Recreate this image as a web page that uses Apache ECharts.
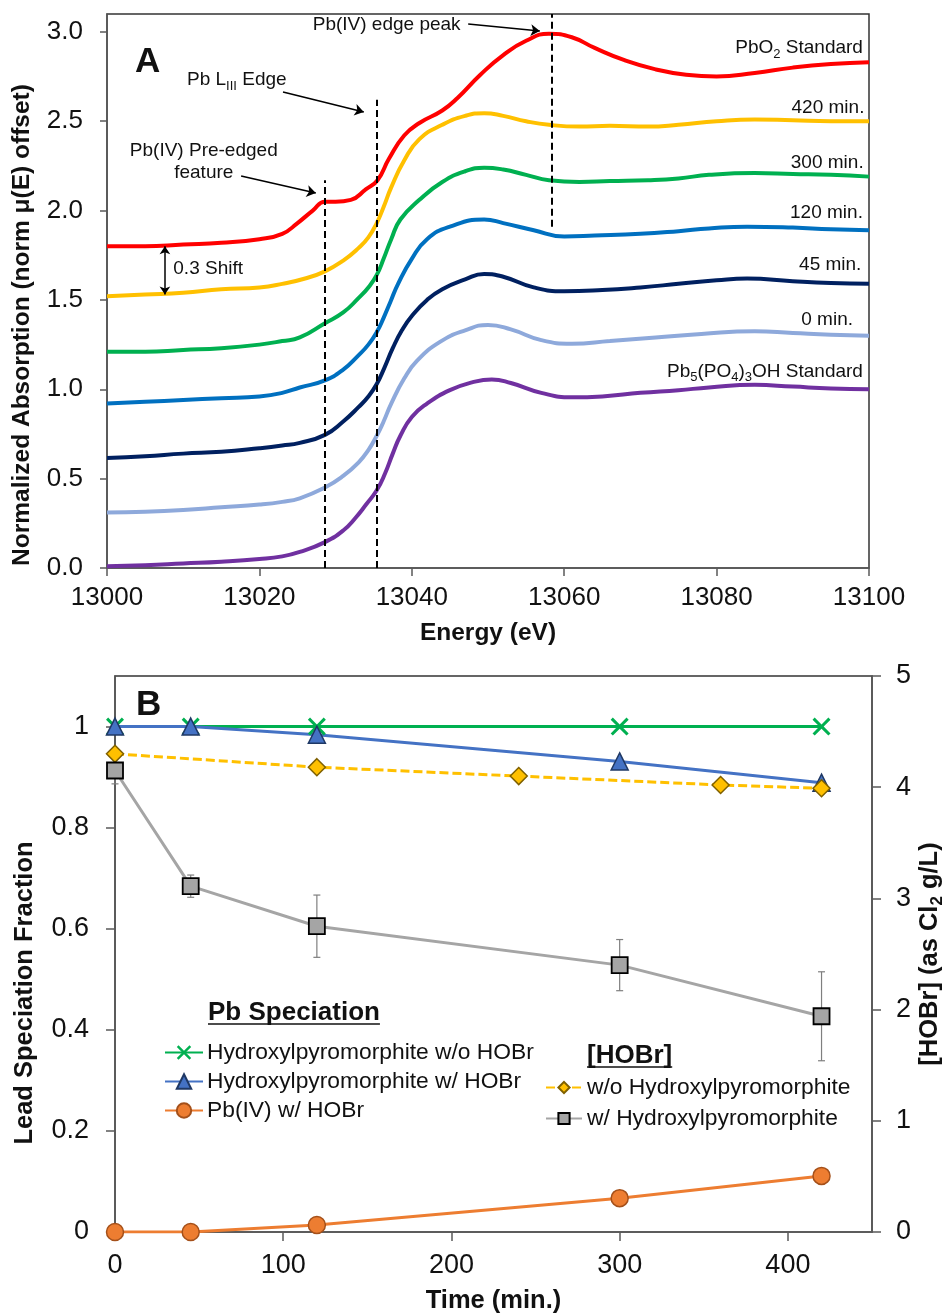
<!DOCTYPE html>
<html>
<head>
<meta charset="utf-8">
<script src="https://cdn.jsdelivr.net/npm/echarts@6/dist/echarts.min.js"></script>
<style>
  html, body { margin: 0; padding: 0; background: #ffffff; }
  #chart { width: 950px; height: 1313px; }
</style>
</head>
<body>
<div id="chart"></div>
<script>
// ---------- Panel A: Pb L-III XANES spectra, stacked with a 0.3 offset ----------
const energyTicks = [13000, 13020, 13040, 13060, 13080, 13100];
const absorptionTicks = [0, 0.5, 1.0, 1.5, 2.0, 2.5, 3.0];

// [energy (eV), normalized absorption incl. offset]
const pbo2Standard = [
  [13000, 1.80], [13005, 1.80], [13010, 1.81], [13015, 1.82], [13020, 1.84], [13023, 1.87],
  [13025, 1.93], [13027, 2.00], [13028.6, 2.05], [13030, 2.05], [13032, 2.06], [13034, 2.12],
  [13035.5, 2.17], [13037, 2.29], [13039, 2.42], [13041, 2.49], [13044, 2.56], [13046, 2.63],
  [13049, 2.76], [13052, 2.87], [13055, 2.95], [13058, 2.99], [13061, 2.97], [13064, 2.91],
  [13068, 2.84], [13072, 2.79], [13076, 2.76], [13080, 2.75], [13085, 2.77], [13090, 2.80],
  [13095, 2.82], [13100, 2.83]
];
const min420 = [
  [13000, 1.52], [13005, 1.53], [13010, 1.54], [13015, 1.56], [13020, 1.57], [13023, 1.59],
  [13026, 1.62], [13028.6, 1.66], [13031, 1.72], [13033, 1.79], [13034.3, 1.85], [13035.4, 1.93],
  [13036.3, 2.02], [13037.3, 2.13], [13039, 2.28], [13041, 2.40], [13044, 2.48], [13047, 2.53],
  [13049.5, 2.545], [13052, 2.53], [13055, 2.50], [13058, 2.48], [13062, 2.47], [13066, 2.475],
  [13071, 2.47], [13075, 2.48], [13080, 2.50], [13085, 2.51], [13090, 2.505], [13095, 2.50],
  [13100, 2.50]
];
const min300 = [
  [13000, 1.21], [13005, 1.21], [13010, 1.22], [13015, 1.23], [13020, 1.25], [13023, 1.27],
  [13025.3, 1.29], [13028.6, 1.37], [13031, 1.43], [13033, 1.51], [13034.3, 1.57], [13035.4, 1.64],
  [13036.3, 1.73], [13037.3, 1.84], [13038.5, 1.95], [13041, 2.06], [13044, 2.16], [13047, 2.22],
  [13049.5, 2.24], [13052, 2.23], [13055, 2.20], [13058, 2.17], [13062, 2.16], [13066, 2.165],
  [13071, 2.17], [13075, 2.18], [13079, 2.20], [13085, 2.21], [13090, 2.205], [13095, 2.20],
  [13100, 2.19]
];
const min120 = [
  [13000, 0.92], [13005, 0.93], [13010, 0.94], [13015, 0.95], [13020, 0.96], [13023, 0.98],
  [13025.3, 1.01], [13028.6, 1.05], [13031, 1.11], [13033, 1.19], [13034.3, 1.25], [13035.4, 1.32],
  [13036.3, 1.40], [13037.2, 1.49], [13038.2, 1.59], [13040, 1.73], [13042, 1.84], [13045, 1.91],
  [13049.5, 1.95], [13052, 1.93], [13056, 1.89], [13060, 1.855], [13064, 1.86], [13070, 1.87],
  [13075, 1.885], [13079, 1.90], [13084, 1.91], [13090, 1.905], [13095, 1.895], [13100, 1.89]
];
const min45 = [
  [13000, 0.615], [13005, 0.625], [13010, 0.64], [13015, 0.65], [13020, 0.67], [13023, 0.685],
  [13025.3, 0.70], [13028.6, 0.745], [13031, 0.82], [13033, 0.90], [13034.3, 0.96], [13035.4, 1.03],
  [13036.4, 1.12], [13037.5, 1.23], [13038.7, 1.33], [13040, 1.41], [13042, 1.50], [13044, 1.56],
  [13047, 1.615], [13049.5, 1.645], [13052, 1.63], [13056, 1.57], [13060, 1.548], [13065, 1.555],
  [13070, 1.57], [13075, 1.59], [13080, 1.61], [13084, 1.62], [13090, 1.605], [13095, 1.595],
  [13100, 1.59]
];
const min0 = [
  [13000, 0.31], [13005, 0.315], [13010, 0.325], [13015, 0.34], [13020, 0.355], [13023, 0.37],
  [13025.3, 0.39], [13028.6, 0.45], [13031, 0.515], [13033, 0.59], [13034.3, 0.66], [13035.4, 0.74],
  [13036.3, 0.82], [13037.3, 0.92], [13039, 1.06], [13040.7, 1.16], [13043.7, 1.265], [13047, 1.33],
  [13050, 1.36], [13053, 1.335], [13057, 1.275], [13061, 1.255], [13066, 1.27], [13072, 1.29],
  [13078, 1.31], [13085, 1.325], [13090, 1.315], [13095, 1.305], [13100, 1.30]
];
const hydroxylpyromorphiteStandard = [
  [13000, 0.01], [13005, 0.015], [13010, 0.025], [13015, 0.035], [13020, 0.05], [13023, 0.065],
  [13025.3, 0.09], [13028.6, 0.145], [13031, 0.21], [13032.6, 0.28], [13034, 0.355], [13035.4, 0.435],
  [13036.5, 0.53], [13037.5, 0.64], [13038.5, 0.74], [13040, 0.845], [13042, 0.92], [13045, 0.995],
  [13048, 1.04], [13050.5, 1.055], [13053, 1.035], [13057, 0.98], [13061, 0.955], [13065, 0.96],
  [13070, 0.98], [13075, 0.995], [13079, 1.01], [13085, 1.025], [13090, 1.015], [13095, 1.005],
  [13100, 1.00]
];

// ---------- Panel B: speciation fractions (left axis) and [HOBr] (right axis) ----------
const timeTicks = [0, 100, 200, 300, 400];
const fractionTicks = [0, 0.2, 0.4, 0.6, 0.8, 1];
const hobrTicks = [0, 1, 2, 3, 4, 5];

const speciationTimes = [0, 45, 120, 300, 420];
const hpmWithoutHobr = [1, 1, 1, 1, 1];
const hpmWithHobr = [1, 1, 0.984, 0.931, 0.889];
const pbIVWithHobr = [0, 0, 0.014, 0.067, 0.111];

const hobrTimesNoHpm = [0, 120, 240, 360, 420];
const hobrNoHpm = [4.30, 4.18, 4.10, 4.02, 3.99];
const hobrTimesWithHpm = [0, 45, 120, 300, 420];
const hobrWithHpm = [4.15, 3.11, 2.75, 2.40, 1.94];
const hobrWithHpmErr = [0.12, 0.10, 0.28, 0.23, 0.40];

// ---------- styling ----------
const FONT = '"Liberation Sans", Arial, Helvetica, sans-serif';
const INK = '#111111';
const AXIS = '#595959';

const pairs = (xs, ys) => xs.map((x, i) => [x, ys[i]]);

const spectra = [
  { name: 'PbO2 Standard', data: pbo2Standard, color: '#FF0000' },
  { name: '420 min.', data: min420, color: '#FFC000' },
  { name: '300 min.', data: min300, color: '#00B050' },
  { name: '120 min.', data: min120, color: '#0070C0' },
  { name: '45 min.', data: min45, color: '#002060' },
  { name: '0 min.', data: min0, color: '#8EA9DB' },
  { name: 'Pb5(PO4)3OH Standard', data: hydroxylpyromorphiteStandard, color: '#7030A0' }
];

// annotation geometry, in data units of panel A
const guideLines = [
  { e: 13028.6, from: 0, to: 2.17 },
  { e: 13035.4, from: 0, to: 2.62 },
  { e: 13058.4, from: 1.91, to: 3.1 }
];
const calloutArrows = [
  { from: [13047.4, 3.044], to: [13056.8, 3.005] },
  { from: [13023.1, 2.664], to: [13033.7, 2.552] },
  { from: [13017.6, 2.194], to: [13027.4, 2.098] }
];
const shiftArrow = { e: 13007.6, from: 1.80, to: 1.53 };

const X_SHAPE = 'path://M0,1.2L1.2,0L5,3.8L8.8,0L10,1.2L6.2,5L10,8.8L8.8,10L5,6.2L1.2,10L0,8.8L3.8,5Z';

const chart = echarts.init(document.getElementById('chart'), null, { renderer: 'canvas' });

const axisNameA = { fontFamily: FONT, fontSize: 24.5, fontWeight: 'bold', color: INK };
const axisNameB = { fontFamily: FONT, fontSize: 25.5, fontWeight: 'bold', color: INK };
const tickLabelA = { fontFamily: FONT, fontSize: 26, color: INK };
const tickLabelB = { fontFamily: FONT, fontSize: 27, color: INK };

const option = {
  animation: false,
  backgroundColor: '#ffffff',
  grid: [
    { left: 107, right: 81, top: 14, bottom: 745, outerBoundsMode: 'none', containLabel: false,
      show: true, borderColor: '#333333', borderWidth: 1.5, backgroundColor: 'transparent' },
    { left: 115, right: 78, top: 676, bottom: 81, outerBoundsMode: 'none', containLabel: false,
      show: true, borderColor: '#333333', borderWidth: 1.5, backgroundColor: 'transparent' }
  ],
  xAxis: [
    {
      gridIndex: 0, type: 'value', min: 13000, max: 13100, interval: 20,
      name: 'Energy (eV)', nameLocation: 'middle', nameGap: 53, nameTextStyle: axisNameA,
      axisLine: { lineStyle: { color: AXIS, width: 1.5 } },
      axisTick: { length: 8, lineStyle: { color: AXIS, width: 1.5 } },
      axisLabel: Object.assign({ margin: 17, customValues: energyTicks, formatter: v => String(v) }, tickLabelA),
      splitLine: { show: false }
    },
    {
      gridIndex: 1, type: 'value', min: 0, max: 450, interval: 50,
      name: 'Time (min.)', nameLocation: 'middle', nameGap: 56, nameTextStyle: axisNameB,
      axisLine: { lineStyle: { color: AXIS, width: 1.5 } },
      axisTick: { length: 9, customValues: timeTicks, lineStyle: { color: AXIS, width: 1.5 } },
      axisLabel: Object.assign({ margin: 20, customValues: timeTicks }, tickLabelB),
      splitLine: { show: false }
    }
  ],
  yAxis: [
    {
      gridIndex: 0, type: 'value', min: 0, max: 3.1, interval: 0.5,
      axisLine: { show: true, lineStyle: { color: AXIS, width: 1.5 } },
      axisTick: { show: true, length: 7, customValues: absorptionTicks, lineStyle: { color: AXIS, width: 1.5 } },
      axisLabel: Object.assign({ margin: 24, customValues: absorptionTicks, formatter: v => v.toFixed(1) }, tickLabelA),
      splitLine: { show: false }
    },
    {
      gridIndex: 1, type: 'value', min: 0, max: 1.1, interval: 0.1,
      axisLine: { show: true, lineStyle: { color: AXIS, width: 1.5 } },
      axisTick: { show: true, length: 9, customValues: fractionTicks, lineStyle: { color: AXIS, width: 1.5 } },
      axisLabel: Object.assign({ margin: 26, customValues: fractionTicks }, tickLabelB),
      splitLine: { show: false }
    },
    {
      gridIndex: 1, type: 'value', position: 'right', min: 0, max: 5, interval: 1,
      axisLine: { show: true, lineStyle: { color: AXIS, width: 1.5 } },
      axisTick: { show: true, length: 9, lineStyle: { color: AXIS, width: 1.5 } },
      axisLabel: Object.assign({ margin: 24, customValues: hobrTicks }, tickLabelB),
      splitLine: { show: false }
    }
  ],
  legend: [
    {
      data: ['Hydroxylpyromorphite w/o HOBr', 'Hydroxylpyromorphite w/ HOBr', 'Pb(IV) w/ HOBr'],
      orient: 'vertical', left: 164, top: 1041, itemWidth: 38, itemHeight: 18, itemGap: 6,
      selectedMode: false, padding: 0,
      textStyle: { fontFamily: FONT, fontSize: 22.8, color: INK, padding: [0, 0, 0, -1] }
    },
    {
      data: ['w/o Hydroxylpyromorphite', 'w/ Hydroxylpyromorphite'],
      orient: 'vertical', left: 545, top: 1076, itemWidth: 36, itemHeight: 14, itemGap: 8,
      selectedMode: false, padding: 0,
      textStyle: { fontFamily: FONT, fontSize: 22.8, color: INK, padding: [0, 0, 0, 0] }
    }
  ],
  series: []
};

// spectra
spectra.forEach(s => {
  option.series.push({
    name: s.name, type: 'line', xAxisIndex: 0, yAxisIndex: 0,
    data: s.data, showSymbol: false, smooth: 0.5, silent: true,
    lineStyle: { color: s.color, width: 4 }, itemStyle: { color: s.color }
  });
});

// guide lines and callout arrows for panel A
option.series.push({
  type: 'line', xAxisIndex: 0, yAxisIndex: 0, data: [], silent: true,
  markLine: {
    silent: true, animation: false, label: { show: false },
    symbol: ['none', 'none'],
    lineStyle: { color: '#000000', width: 2, type: [7, 4] },
    emphasis: { disabled: true },
    data: guideLines.map(g => [{ coord: [g.e, g.from] }, { coord: [g.e, g.to] }])
  }
});
option.series.push({
  type: 'line', xAxisIndex: 0, yAxisIndex: 0, data: [], silent: true,
  markLine: {
    silent: true, animation: false, label: { show: false },
    symbol: ['none', 'arrow'], symbolSize: 9,
    lineStyle: { color: '#000000', width: 1.6, type: 'solid' },
    emphasis: { disabled: true },
    data: calloutArrows.map(a => [{ coord: a.from }, { coord: a.to }])
  }
});
option.series.push({
  type: 'line', xAxisIndex: 0, yAxisIndex: 0, data: [], silent: true,
  markLine: {
    silent: true, animation: false, label: { show: false },
    symbol: ['arrow', 'arrow'], symbolSize: 8,
    lineStyle: { color: '#000000', width: 1.5, type: 'solid' },
    emphasis: { disabled: true },
    data: [[{ coord: [shiftArrow.e, shiftArrow.from] }, { coord: [shiftArrow.e, shiftArrow.to] }]]
  }
});

// panel B: speciation
option.series.push({
  name: 'Hydroxylpyromorphite w/o HOBr', type: 'line', xAxisIndex: 1, yAxisIndex: 1,
  data: pairs(speciationTimes, hpmWithoutHobr),
  symbol: X_SHAPE, symbolSize: 18,
  lineStyle: { color: '#00B050', width: 3 }, itemStyle: { color: '#00B050' }
});
option.series.push({
  name: 'Hydroxylpyromorphite w/ HOBr', type: 'line', xAxisIndex: 1, yAxisIndex: 1,
  data: pairs(speciationTimes, hpmWithHobr),
  symbol: 'triangle', symbolSize: 17,
  lineStyle: { color: '#4472C4', width: 3 },
  itemStyle: { color: '#4472C4', borderColor: '#1F3864', borderWidth: 1.5 }
});
option.series.push({
  name: 'Pb(IV) w/ HOBr', type: 'line', xAxisIndex: 1, yAxisIndex: 1,
  data: pairs(speciationTimes, pbIVWithHobr),
  symbol: 'circle', symbolSize: 17,
  lineStyle: { color: '#ED7D31', width: 3 },
  itemStyle: { color: '#ED7D31', borderColor: '#A4501A', borderWidth: 1.5 }
});
// panel B: HOBr concentration
option.series.push({
  name: 'w/o Hydroxylpyromorphite', type: 'line', xAxisIndex: 1, yAxisIndex: 2,
  data: pairs(hobrTimesNoHpm, hobrNoHpm),
  symbol: 'diamond', symbolSize: 17,
  lineStyle: { color: '#FFC000', width: 3, type: [9, 4] },
  itemStyle: { color: '#FFC000', borderColor: '#7F6000', borderWidth: 1.5 }
});
option.series.push({
  type: 'custom', xAxisIndex: 1, yAxisIndex: 2, silent: true,
  data: hobrTimesWithHpm.map((t, i) => [t, hobrWithHpm[i], hobrWithHpmErr[i]]),
  encode: { x: 0, y: 1 },
  renderItem: (params, api) => {
    const t = api.value(0), v = api.value(1), e = api.value(2);
    const top = api.coord([t, v + e]);
    const bot = api.coord([t, v - e]);
    const cap = 3.5;
    const st = { stroke: '#7F7F7F', lineWidth: 1.2 };
    return {
      type: 'group',
      children: [
        { type: 'line', shape: { x1: top[0], y1: top[1], x2: bot[0], y2: bot[1] }, style: st },
        { type: 'line', shape: { x1: top[0] - cap, y1: top[1], x2: top[0] + cap, y2: top[1] }, style: st },
        { type: 'line', shape: { x1: bot[0] - cap, y1: bot[1], x2: bot[0] + cap, y2: bot[1] }, style: st }
      ]
    };
  }
});
option.series.push({
  name: 'w/ Hydroxylpyromorphite', type: 'line', xAxisIndex: 1, yAxisIndex: 2,
  data: pairs(hobrTimesWithHpm, hobrWithHpm),
  symbol: 'rect', symbolSize: 16,
  lineStyle: { color: '#A5A5A5', width: 3 },
  itemStyle: { color: '#A5A5A5', borderColor: '#000000', borderWidth: 1.8 }
});

chart.setOption(option);

// ---------- text annotations placed from data coordinates ----------
const px = (gi, p) => chart.convertToPixel({ gridIndex: gi }, p);
const txt = (x, y, text, style) => ({
  type: 'text', x, y, silent: true,
  style: Object.assign({ text, fontFamily: FONT, fill: INK }, style)
});
const rich = {
  t: { fontFamily: FONT, fontSize: 19, fill: INK, lineHeight: 26 },
  s: { fontFamily: FONT, fontSize: 13, fill: INK, lineHeight: 13, verticalAlign: 'bottom' }
};

const curveLabels = [
  { text: '{t|PbO}{s|2}{t| Standard}', at: [13099.2, 2.91] },
  { text: '{t|420 min.}', at: [13099.4, 2.574] },
  { text: '{t|300 min.}', at: [13099.3, 2.266] },
  { text: '{t|120 min.}', at: [13099.2, 1.99] },
  { text: '{t|45 min.}', at: [13099.0, 1.696] },
  { text: '{t|0 min.}', at: [13097.9, 1.388] },
  { text: '{t|Pb}{s|5}{t|(PO}{s|4}{t|)}{s|3}{t|OH Standard}', at: [13099.2, 1.10] }
];
const calloutTexts = [
  { text: 'Pb(IV) edge peak', at: [13027.0, 3.04], align: 'left' },
  { text: '{t|Pb L}{s|III}{t| Edge}', at: [13010.5, 2.73], align: 'left' },
  { text: 'Pb(IV) Pre-edged\nfeature', at: [13012.7, 2.275], align: 'center' },
  { text: '0.3 Shift', at: [13008.7, 1.673], align: 'left' }
];

const graphics = [];
curveLabels.forEach(c => {
  const p = px(0, c.at);
  graphics.push(txt(p[0], p[1], c.text, { rich, align: 'right', textAlign: 'right', verticalAlign: 'middle', textVerticalAlign: 'middle' }));
});
calloutTexts.forEach(c => {
  const p = px(0, c.at);
  graphics.push(txt(p[0], p[1], c.text, {
    rich, fontSize: 19, lineHeight: 22,
    align: c.align, textAlign: c.align, verticalAlign: 'middle', textVerticalAlign: 'middle'
  }));
});

// panel letters
graphics.push(txt(135, 62, 'A', { fontSize: 35, fontWeight: 'bold', verticalAlign: 'middle', textVerticalAlign: 'middle' }));
graphics.push(txt(136, 705, 'B', { fontSize: 35, fontWeight: 'bold', verticalAlign: 'middle', textVerticalAlign: 'middle' }));

// rotated axis titles (read bottom to top)
const titleRich = {
  b: { fontFamily: FONT, fontSize: 25.5, fontWeight: 'bold', fill: INK, lineHeight: 32 },
  s: { fontFamily: FONT, fontSize: 17, fontWeight: 'bold', fill: INK, lineHeight: 17, verticalAlign: 'bottom' }
};
const sideTitles = [
  { text: 'Normalized Absorption (norm μ(E) offset)', x: 22, y: 325, size: 24.5 },
  { text: 'Lead Speciation Fraction', x: 25, y: 993, size: 25.5 },
  { text: '{b|[HOBr] (as Cl}{s|2}{b| g/L)}', x: 930, y: 954, size: 25.5, rich: titleRich }
];
sideTitles.forEach(s => {
  const style = { text: s.text, fontFamily: FONT, fontSize: s.size, fontWeight: 'bold', fill: INK,
    align: 'center', textAlign: 'center', verticalAlign: 'middle', textVerticalAlign: 'middle' };
  if (s.rich) style.rich = s.rich;
  graphics.push({ type: 'text', x: s.x, y: s.y, rotation: Math.PI / 2, silent: true, style });
});

// legend headings with underline
const headings = [
  { text: 'Pb Speciation', x: 208, y: 1013, size: 26 },
  { text: '[HOBr]', x: 587, y: 1056, size: 26 }
];
headings.forEach(h => {
  graphics.push(txt(h.x, h.y, h.text, { fontSize: h.size, fontWeight: 'bold', verticalAlign: 'middle', textVerticalAlign: 'middle' }));
  const c = document.createElement('canvas').getContext('2d');
  c.font = 'bold ' + h.size + 'px ' + FONT;
  const w = c.measureText(h.text).width;
  graphics.push({ type: 'line', silent: true, shape: { x1: h.x, y1: h.y + 11, x2: h.x + w, y2: h.y + 11 }, style: { stroke: INK, lineWidth: 1.6 } });
});

chart.setOption({ graphic: graphics });
</script>
</body>
</html>
